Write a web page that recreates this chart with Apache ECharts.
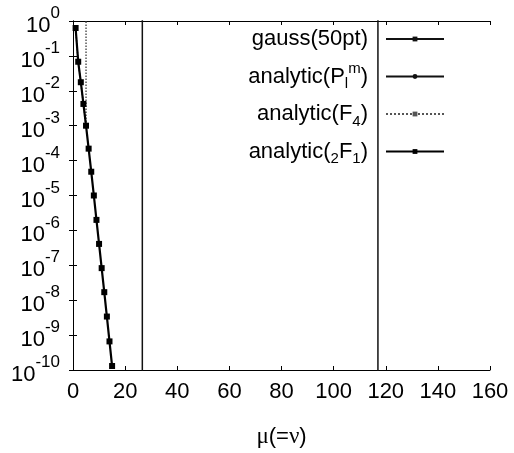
<!DOCTYPE html>
<html>
<head>
<meta charset="utf-8">
<script src="https://cdn.jsdelivr.net/npm/echarts@6/dist/echarts.min.js"></script>
<style>
html,body{margin:0;padding:0;background:#fff;}
#c{width:514px;height:453px;}
</style>
</head>
<body>
<div id="c"></div>
<script>
// ---- data ----
const xTicks = [0, 20, 40, 60, 80, 100, 120, 140, 160];
const yExponents = [0, -1, -2, -3, -4, -5, -6, -7, -8, -9, -10];

// analytic(2F1): mu and values
const mu21 = [1, 2, 3, 4, 5, 6, 7, 8, 9, 10, 11, 12, 13, 14, 15];
const val21 = [0.63, 0.068, 0.0176, 0.0042, 1.0e-3, 2.2e-4, 4.8e-5, 1.0e-5, 2.0e-6, 4.1e-7, 8.3e-8, 1.7e-8, 3.4e-9, 6.6e-10, 1.3e-10];

// analytic(F4): follows the curve, then jumps off-scale at mu = 5
const muF4 = [1, 2, 3, 4, 5, 5];
const valF4 = [0.63, 0.068, 0.0176, 0.0042, 1.0e-3, 1e2];

// gauss(50pt): jump from below range to above range at mu ~ 26.6
const muGauss = [26.6, 26.6];
const valGauss = [1e-12, 1e2];

// analytic(P_l^m): jump at mu ~ 117
const muP = [117, 117];
const valP = [1e-12, 1e2];

const seriesNames = ['gauss(50pt)', 'analytic(Plm)', 'analytic(F4)', 'analytic(2F1)'];
const legendRich = {
  'gauss(50pt)': '{n|gauss(50pt)}',
  'analytic(Plm)': '{n|analytic(P}{sub|l}{sup|m}{n|)}',
  'analytic(F4)': '{n|analytic(F}{sub|4}{n|)}',
  'analytic(2F1)': '{n|analytic(}{sub|2}{n|F}{sub|1}{n|)}'
};

function zip(xs, ys) { return xs.map((x, i) => [x, ys[i]]); }

const FONT = '"Liberation Sans", Arial, Helvetica, sans-serif';
const chart = echarts.init(document.getElementById('c'), null, {renderer: 'canvas'});

const axisLineStyle = {show: true, lineStyle: {color: '#000', width: 1}};
const tickStyle = {show: true, inside: true, length: 4, lineStyle: {color: '#000', width: 1}};

const option = {
  animation: false,
  backgroundColor: '#fff',
  grid: {left: 73, right: 24, top: 21, bottom: 80, containLabel: false},
  xAxis: [
    {
      type: 'value', min: xTicks[0], max: xTicks[xTicks.length - 1], interval: 20,
      position: 'bottom',
      axisLine: axisLineStyle, axisTick: tickStyle, splitLine: {show: false},
      axisLabel: {margin: 11, fontSize: 22, color: '#000', fontFamily: FONT},
      name: '{g|μ}{n|(=}{g|ν}{n|)}', nameLocation: 'middle', nameGap: 55,
      nameTextStyle: {
        color: '#000',
        rich: {
          g: {fontFamily: '"Liberation Serif", "Times New Roman", serif', fontSize: 23, color: '#000'},
          n: {fontFamily: FONT, fontSize: 22, color: '#000'}
        }
      }
    },
    {
      type: 'value', min: xTicks[0], max: xTicks[xTicks.length - 1], interval: 20,
      position: 'top',
      axisLine: axisLineStyle, axisTick: tickStyle, splitLine: {show: false},
      axisLabel: {show: false}
    }
  ],
  yAxis: [
    {
      type: 'log', logBase: 10, min: 1e-10, max: 1, interval: 1,
      position: 'left',
      axisLine: axisLineStyle, axisTick: tickStyle, splitLine: {show: false}, minorTick: {show: false},
      axisLabel: {
        margin: 13, color: '#000', fontFamily: FONT,
        formatter: function (v) {
          const e = Math.round(Math.log10(v));
          const lab = yExponents.indexOf(e) >= 0 ? e : e;
          return '{b|10}{s|' + lab + '}';
        },
        rich: {
          b: {fontSize: 22, fontFamily: FONT, color: '#000', verticalAlign: 'bottom', lineHeight: 26},
          s: {fontSize: 17, fontFamily: FONT, color: '#000', verticalAlign: 'top'}
        },
        lineHeight: 32
      }
    },
    {
      type: 'log', logBase: 10, min: 1e-10, max: 1, interval: 1,
      position: 'right',
      axisLine: axisLineStyle, axisTick: tickStyle, splitLine: {show: false},
      axisLabel: {show: false}
    }
  ],
  legend: {
    orient: 'vertical',
    right: 64, top: 23,
    align: 'right',
    itemWidth: 58, itemHeight: 6, itemGap: 11.5,
    selectedMode: false,
    data: seriesNames,
    formatter: function (name) { return legendRich[name]; },
    textStyle: {
      color: '#000', fontFamily: FONT, fontSize: 22,
      padding: [0, 13, 0, 0],
      rich: {
        n: {fontSize: 22, fontFamily: FONT, color: '#000', lineHeight: 30},
        sub: {fontSize: 15, fontFamily: FONT, color: '#000', verticalAlign: 'bottom'},
        sup: {fontSize: 15, fontFamily: FONT, color: '#000', verticalAlign: 'top'}
      }
    }
  },
  series: [
    {
      name: seriesNames[0], type: 'line', data: zip(muGauss, valGauss),
      symbol: 'rect', symbolSize: 2, clip: true,
      lineStyle: {color: '#111', width: 1.5}, itemStyle: {color: '#111'}
    },
    {
      name: seriesNames[1], type: 'line', data: zip(muP, valP),
      symbol: 'circle', symbolSize: 3, clip: true,
      lineStyle: {color: '#111', width: 1.5}, itemStyle: {color: '#111'}
    },
    {
      name: seriesNames[2], type: 'line', data: zip(muF4, valF4),
      symbol: 'rect', symbolSize: 3, clip: true,
      lineStyle: {color: '#555', width: 1.5, type: 'dotted'}, itemStyle: {color: '#555'}
    },
    {
      name: seriesNames[3], type: 'line', data: zip(mu21, val21),
      symbol: 'rect', symbolSize: 6, clip: true,
      lineStyle: {color: '#000', width: 2.2}, itemStyle: {color: '#000'}
    }
  ]
};
chart.setOption(option);
</script>
</body>
</html>
